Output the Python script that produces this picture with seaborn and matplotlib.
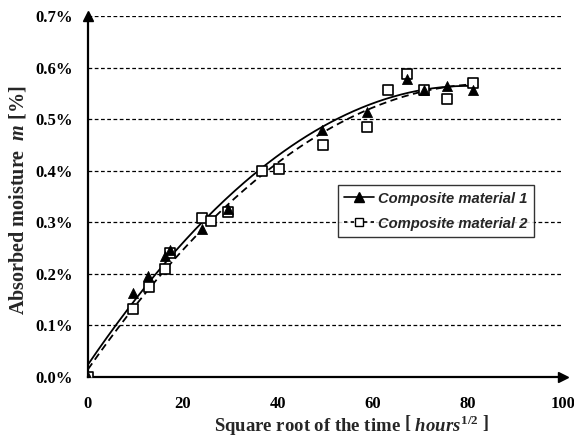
import numpy as np
import pandas as pd
import matplotlib
matplotlib.use("Agg")
import matplotlib.pyplot as plt
import seaborn as sns
from matplotlib.ticker import FuncFormatter
from matplotlib.lines import Line2D

# Data
x1 = [0, 9.5, 12.7, 16.2, 17.3, 23.9, 29.5, 49.2, 58.7, 67.1, 70.7, 75.5, 81.1]
y1 = [0.000, 0.162, 0.196, 0.234, 0.247, 0.287, 0.326, 0.478, 0.513, 0.578, 0.556, 0.564, 0.557]
x2 = [0, 9.5, 12.9, 16.2, 17.3, 23.9, 25.8, 29.4, 36.6, 40.2, 49.4, 58.7, 63.1, 67.1, 70.7, 75.5, 81.1]
y2 = [0.000, 0.131, 0.174, 0.209, 0.240, 0.309, 0.302, 0.319, 0.400, 0.403, 0.449, 0.484, 0.556, 0.588, 0.556, 0.539, 0.571]
names = ["Composite material 1", "Composite material 2"]
xticks = [0, 20, 40, 60, 80, 100]
yticks = [0.0, 0.1, 0.2, 0.3, 0.4, 0.5, 0.6, 0.7]

sns.set_theme(style="white")
plt.rcParams['font.family'] = ['Liberation Serif', 'DejaVu Serif']
plt.rcParams['mathtext.fontset'] = 'custom'
plt.rcParams['mathtext.rm'] = 'Liberation Serif:bold'
plt.rcParams['mathtext.it'] = 'Liberation Serif:italic:bold'
plt.rcParams['mathtext.bf'] = 'Liberation Serif:bold'

fig = plt.figure(figsize=(5.74, 4.41), dpi=100)
ax = fig.add_axes([0.1533, 0.1451, 0.8275, 0.8186])

# trendlines (2nd order polynomial fits of the data)
xs = np.linspace(0, 82, 200)
c1 = np.polyfit(x1, y1, 2)
c2 = np.polyfit(x2, y2, 2)
fit1 = pd.DataFrame({"x": xs, "y": np.polyval(c1, xs)})
fit2 = pd.DataFrame({"x": xs, "y": np.polyval(c2, xs)})
sns.lineplot(data=fit1, x="x", y="y", color="black", lw=1.3, ax=ax, legend=False)
sns.lineplot(data=fit2, x="x", y="y", color="black", lw=1.3, ax=ax, legend=False,
             linestyle=(0, (4, 2.5)))

sns.scatterplot(x=x2, y=y2, marker="s", s=42, facecolor="white", edgecolor="black", linewidth=1.2, ax=ax, zorder=4)
sns.scatterplot(x=x1, y=y1, marker="^", s=52, color="black", edgecolor="black", ax=ax, zorder=5)

ax.set_xlim(0, 100)
ax.set_ylim(0, 0.7)
ax.set_xticks(xticks)
ax.set_yticks(yticks)
ax.yaxis.set_major_formatter(FuncFormatter(lambda v, p: f"{v:.1f}%"))
for lab in ax.get_xticklabels() + ax.get_yticklabels():
    lab.set_fontweight("bold")
    lab.set_fontsize(12)
ax.tick_params(axis="x", direction="out", length=3, width=1.2, pad=11, colors="black")
ax.tick_params(axis="y", direction="in", length=0, pad=11, colors="black")

for v in yticks[1:]:
    ax.axhline(v, color="black", lw=0.9, ls=(0, (3, 2)), zorder=1)

for s in ["top", "right"]:
    ax.spines[s].set_visible(False)
for s in ["left", "bottom"]:
    ax.spines[s].set_color("black")
    ax.spines[s].set_linewidth(1.6)
ax.plot([0], [1], marker="^", color="black", ms=7, transform=ax.transAxes, clip_on=False)
ax.plot([1], [0], marker=">", color="black", ms=7, transform=ax.transAxes, clip_on=False)

ax.set_ylabel(r"Absorbed moisture  $\mathit{m}$ [%]", fontsize=14.5, fontweight="bold")
ax.yaxis.set_label_coords(-0.125, 0.49)
ax.set_xlabel(r"Square root of the time $\left[\ \mathit{hours}^{1/2}\ \right]$", fontsize=13.5,
              fontweight="bold")
ax.xaxis.set_label_coords(0.555, -0.1)

handles = [Line2D([], [], color="black", lw=1.2, marker="^", ms=7),
           Line2D([], [], color="black", lw=1.2, ls=(0, (2, 2)), marker="s", ms=6,
                  markerfacecolor="white", markeredgecolor="black")]
leg = ax.legend(handles, names, loc="upper left", bbox_to_anchor=(0.526, 0.532),
                prop={"family": "Liberation Sans", "weight": "bold", "style": "italic", "size": 10.6},
                frameon=True, fancybox=False, edgecolor="black", handlelength=2.0,
                handletextpad=0.3, borderpad=0.45, labelspacing=0.75, borderaxespad=0)
leg.get_frame().set_linewidth(1.0)

fig.savefig("out.png", dpi=100)
